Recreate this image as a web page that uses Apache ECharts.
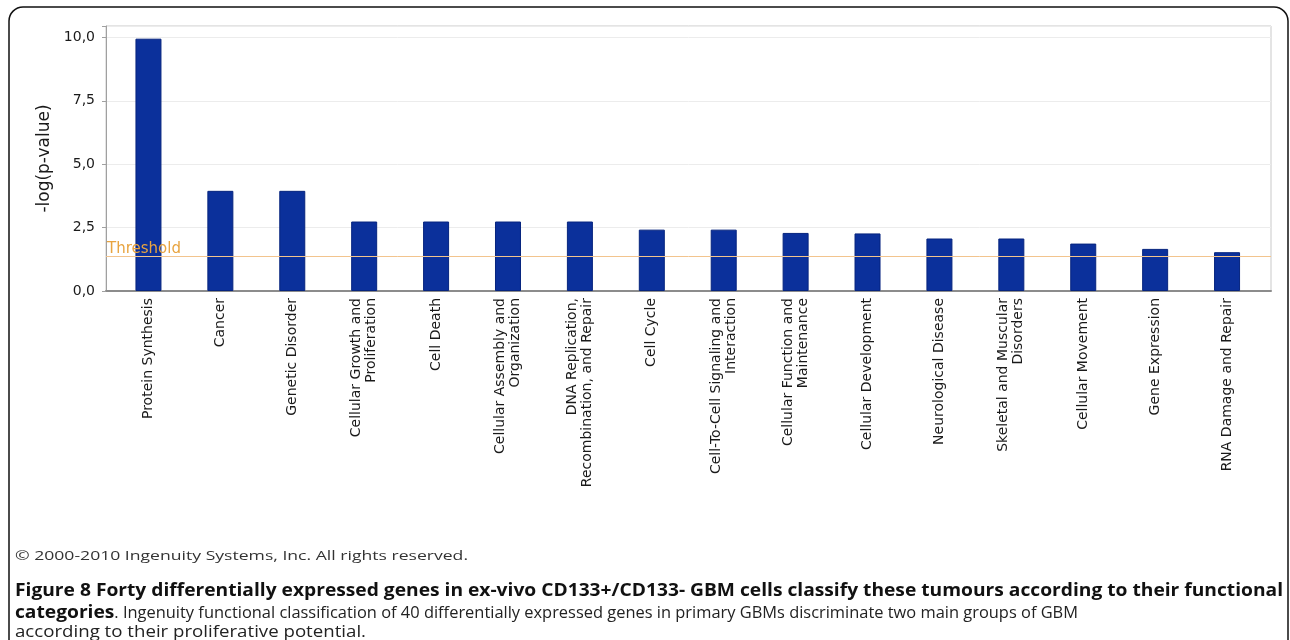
<!DOCTYPE html>
<html>
<head>
<meta charset="utf-8">
<script src="https://cdn.jsdelivr.net/npm/echarts@6/dist/echarts.min.js"></script>
<style>
  html, body { margin: 0; padding: 0; background: #fff; }
  #chart { width: 1290px; height: 640px; }
</style>
</head>
<body>
<div id="chart"></div>
<script>
// Functional categories (Ingenuity) and their -log(p-value) scores
const categories = [
  'Protein Synthesis',
  'Cancer',
  'Genetic Disorder',
  'Cellular Growth and\nProliferation',
  'Cell Death',
  'Cellular Assembly and\nOrganization',
  'DNA Replication,\nRecombination, and Repair',
  'Cell Cycle',
  'Cell-To-Cell Signaling and\nInteraction',
  'Cellular Function and\nMaintenance',
  'Cellular Development',
  'Neurological Disease',
  'Skeletal and Muscular\nDisorders',
  'Cellular Movement',
  'Gene Expression',
  'RNA Damage and Repair'
];
const scores = [9.95, 3.95, 3.95, 2.74, 2.74, 2.74, 2.74, 2.42, 2.42, 2.29, 2.27, 2.07, 2.07, 1.87, 1.66, 1.53];
const thresholdValue = 1.37;
const yTicks = [0, 2.5, 5, 7.5, 10];
const yMax = 10.45;

const axisTitle = '-log(p-value)';
const thresholdLabel = 'Threshold';
const copyrightText = '\u00A9 2000-2010 Ingenuity Systems, Inc. All rights reserved.';
const captionLine1 = 'Figure 8 Forty differentially expressed genes in ex-vivo CD133+/CD133- GBM cells classify these tumours according to their functional';
const captionLine2Bold = 'categories';
const captionLine2Rest = '. Ingenuity functional classification of 40 differentially expressed genes in primary GBMs discriminate two main groups of GBM';
const captionLine3 = 'according to their proliferative potential.';

// text measuring helper for fitting the caption block
const measureCtx = document.createElement('canvas').getContext('2d');
function textWidth(str, font) {
  measureCtx.font = font;
  return measureCtx.measureText(str).width;
}

const capFamily = '"Open Sans", sans-serif';
const capSize = 17;
const capBoldFont = 'bold ' + capSize + 'px ' + capFamily;
const capRegFont = capSize + 'px ' + capFamily;
const capLeft = 15;
// condensed caption: each line squeezed to its own extent
const boldScale = (1283 - capLeft) / textWidth(captionLine1, capBoldFont);
const boldPartW = boldScale * textWidth(captionLine2Bold, capBoldFont);
const restScale = (1078 - capLeft - boldPartW) / textWidth(captionLine2Rest, capRegFont);
const line3Scale = (366 - capLeft) / textWidth(captionLine3, capRegFont);

const copyFont = '13px "Open Sans", sans-serif';
const copyScale = (468 - capLeft) / textWidth(copyrightText, copyFont);

const fmtTick = v => {
  const hit = yTicks.some(t => Math.abs(t - v) < 1e-6);
  return hit ? v.toFixed(1).replace('.', ',') : '';
};

const plotTop = 26;
const plotBottom = 349;

const chart = echarts.init(document.getElementById('chart'), null, { renderer: 'canvas' });
chart.setOption({
  animation: false,
  backgroundColor: '#ffffff',
  grid: [
    // frame grid: border, y axis, baseline, threshold
    { left: 106, right: 19, top: plotTop, bottom: plotBottom, show: true, borderColor: '#c9c9c9', borderWidth: 1, backgroundColor: 'transparent' },
    // bar grid: category bands
    { left: 112.5, right: 27, top: plotTop, bottom: plotBottom }
  ],
  xAxis: [
    {
      gridIndex: 0, type: 'value', min: 0, max: 1,
      axisLine: { show: true, onZero: false, lineStyle: { color: '#8c8c8c', width: 2 } },
      axisTick: { show: false }, axisLabel: { show: false }, splitLine: { show: false }
    },
    {
      gridIndex: 1, type: 'category', data: categories,
      axisLine: { show: false }, axisTick: { show: false },
      axisLabel: {
        interval: 0, rotate: 90, margin: 7,
        fontFamily: '"DejaVu Sans", sans-serif', fontSize: 14, lineHeight: 15,
        color: '#1a1a1a'
      }
    }
  ],
  yAxis: [
    {
      gridIndex: 0, type: 'value', min: 0, max: yMax, interval: 2.5,
      name: axisTitle, nameLocation: 'middle', nameGap: 53, nameRotate: 90,
      nameTextStyle: { fontFamily: '"DejaVu Sans", sans-serif', fontSize: 17, color: '#1a1a1a' },
      axisLine: { show: true, lineStyle: { color: '#a0a0a0', width: 1 } },
      axisTick: { show: true, length: 4, lineStyle: { color: '#a0a0a0' } },
      axisLabel: {
        formatter: fmtTick, margin: 11, showMaxLabel: true,
        fontFamily: '"DejaVu Sans", sans-serif', fontSize: 14, color: '#1a1a1a'
      },
      splitLine: { show: true, lineStyle: { color: '#ececec', width: 1 } }
    },
    {
      gridIndex: 1, type: 'value', min: 0, max: yMax, show: false,
      splitLine: { show: false }
    }
  ],
  series: [
    {
      type: 'bar', xAxisIndex: 1, yAxisIndex: 1,
      data: scores, barWidth: 26,
      itemStyle: { color: '#0b309b', borderColor: '#06247e', borderWidth: 1 },
      z: 2
    },
    {
      type: 'line', xAxisIndex: 0, yAxisIndex: 0, data: [],
      markLine: {
        silent: true, symbol: 'none',
        lineStyle: { color: '#f2c48e', type: 'solid', width: 1 },
        label: {
          show: true, position: 'insideStartTop', formatter: thresholdLabel,
          distance: [1, 0],
          fontFamily: '"DejaVu Sans", sans-serif', fontSize: 15, color: '#e8a440'
        },
        data: [{ yAxis: thresholdValue }]
      },
      z: 3
    }
  ],
  graphic: [
    {
      type: 'rect', silent: true,
      shape: { x: 9, y: 7, width: 1279, height: 700, r: 14 },
      style: { fill: 'none', stroke: '#111', lineWidth: 1.5 }
    },
    {
      type: 'text', x: capLeft, y: 556, scaleX: copyScale,
      style: { text: copyrightText, font: copyFont, fill: '#333', textVerticalAlign: 'middle' }
    },
    {
      type: 'text', x: capLeft, y: 591, scaleX: boldScale,
      style: { text: captionLine1, font: capBoldFont, fill: '#111', textVerticalAlign: 'middle' }
    },
    {
      type: 'text', x: capLeft, y: 613, scaleX: boldScale,
      style: { text: captionLine2Bold, font: capBoldFont, fill: '#111', textVerticalAlign: 'middle' }
    },
    {
      type: 'text', x: capLeft + boldPartW, y: 613, scaleX: restScale,
      style: { text: captionLine2Rest, font: capRegFont, fill: '#222', textVerticalAlign: 'middle' }
    },
    {
      type: 'text', x: capLeft, y: 632, scaleX: line3Scale,
      style: { text: captionLine3, font: capRegFont, fill: '#222', textVerticalAlign: 'middle' }
    }
  ]
});
</script>
</body>
</html>
